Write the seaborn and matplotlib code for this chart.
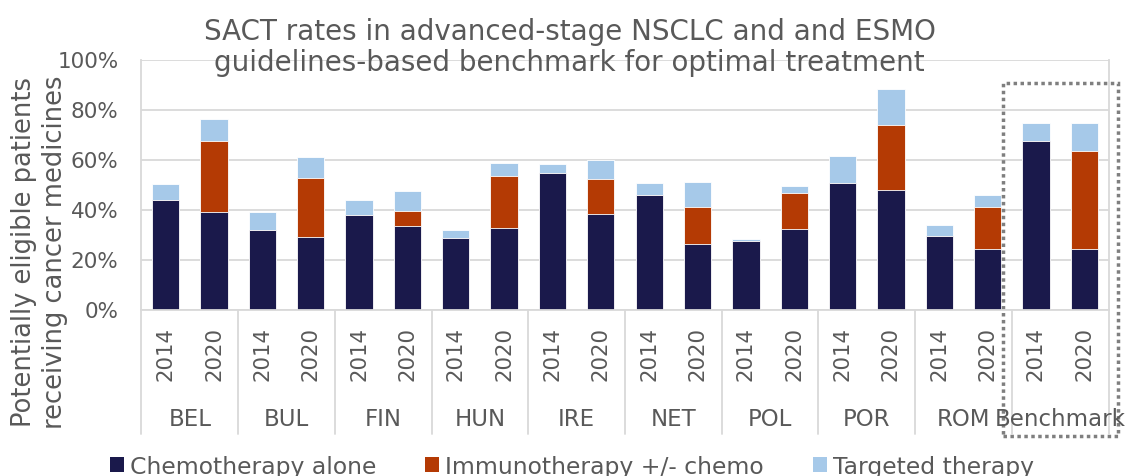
import matplotlib
matplotlib.use("Agg")
import matplotlib.pyplot as plt
import seaborn as sns
import pandas as pd
import numpy as np
from matplotlib.patches import Rectangle, Patch

countries = ["BEL", "BUL", "FIN", "HUN", "IRE", "NET", "POL", "POR", "ROM", "Benchmark"]
years = ["2014", "2020"]
chemo = [44.0, 39.0, 32.0, 29.2, 38.0, 33.5, 28.5, 32.7, 54.6, 38.3,
         45.8, 26.4, 27.6, 32.4, 50.7, 47.9, 29.6, 24.2, 67.5, 24.2]
immuno = [0.0, 28.4, 0.0, 23.3, 0.0, 6.1, 0.0, 20.8, 0.0, 13.8,
          0.0, 14.7, 0.0, 14.3, 0.0, 26.1, 0.0, 16.9, 0.0, 39.4]
targeted = [6.2, 8.7, 6.9, 8.4, 5.8, 7.8, 3.5, 5.0, 3.5, 7.9,
            4.9, 10.0, 0.8, 2.7, 10.7, 14.4, 4.1, 4.7, 7.3, 11.2]
series_names = ["Chemotherapy alone", "Immunotherapy +/- chemo", "Targeted therapy"]
colors = ["#1A194B", "#B43A04", "#A6C9E9"]
title = "SACT rates in advanced-stage NSCLC and and ESMO\nguidelines-based benchmark for optimal treatment"
ylabel = "Potentially eligible patients\nreceiving cancer medicines"

sns.set_style("white")
plt.rcParams["font.family"] = ["DejaVu Sans"]
txt = "#595959"

keys = [f"{c} {y}" for c in countries for y in years]
df = pd.DataFrame({"key": keys, "chemo": chemo, "immuno": immuno, "targeted": targeted})
df["lvl2"] = df["chemo"] + df["immuno"]
df["lvl3"] = df["lvl2"] + df["targeted"]

fig = plt.figure(figsize=(11.26, 4.77), dpi=100)
ax = fig.add_axes([141.5 / 1126, 1 - 310.5 / 477, (1108.5 - 141.5) / 1126, 250 / 477])

for col, c in zip(["lvl3", "lvl2", "chemo"], colors[::-1]):
    sns.barplot(data=df, x="key", y=col, order=keys, color=c, saturation=1,
                width=0.565, errorbar=None, edgecolor="white", linewidth=0.6, ax=ax)

ax.set_ylim(0, 100)
ax.set_xlim(-0.5, len(keys) - 0.5)
ax.set_yticks(np.arange(0, 101, 20))
ax.set_yticklabels([f"{v}%" for v in range(0, 101, 20)], fontsize=15.5, color=txt)
ax.yaxis.grid(True, color="#D9D9D9", lw=1.3)
ax.set_axisbelow(True)
ax.set_xticks(range(len(keys)))
ax.set_xticklabels([k.split()[1] for k in keys], rotation=90, fontsize=15.3, color=txt,
                   va="top", ha="center")
ax.tick_params(axis="x", length=0, pad=12)
ax.tick_params(axis="y", length=0, pad=16.5)
ax.set_xlabel("")
ax.set_ylabel("")
ax.spines["top"].set_visible(False)
for s in ["left", "right", "bottom"]:
    ax.spines[s].set_color("#D9D9D9")
    ax.spines[s].set_linewidth(1.3)

tr = ax.get_xaxis_transform()
for i in range(len(countries) + 1):
    ax.plot([2 * i - 0.5, 2 * i - 0.5], [0, -0.498], transform=tr, color="#D9D9D9",
            lw=1.3, clip_on=False)
for i, c in enumerate(countries):
    ax.text(2 * i + 0.5, -0.435, c, transform=tr, ha="center", va="center",
            fontsize=16.5, color=txt)

ax.add_patch(Rectangle((17.32, -0.506), 19.70 - 17.32, 0.906 + 0.506, transform=tr,
                       fill=False, edgecolor="#7F7F7F", lw=2.5, linestyle=(0, (1, 1)),
                       clip_on=False))

fig.text(0.506, 0.9, title, ha="center", va="center", fontsize=20, color=txt,
         linespacing=1.15)
fig.text(0.035, 0.472, ylabel, ha="center", va="center", rotation=90, fontsize=18.5,
         color=txt, linespacing=1.22)

handles = [Patch(facecolor=c, edgecolor="none") for c in colors]
fig.legend(handles, series_names, loc="center", bbox_to_anchor=(0.508, 0.02), ncol=3,
           frameon=False, fontsize=16.9, labelcolor=txt, handlelength=0.6, handleheight=0.6,
           handletextpad=0.25, columnspacing=2.1)

fig.savefig("out.png", dpi=100)
